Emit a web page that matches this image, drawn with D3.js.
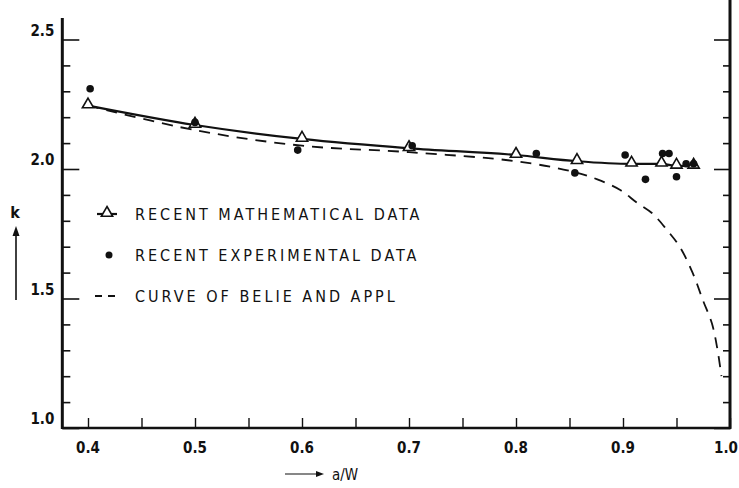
<!DOCTYPE html>
<html>
<head>
<meta charset="utf-8">
<script src="https://cdn.jsdelivr.net/npm/d3@7"></script>
<style>
body { margin:0; background:#fff; }
text { font-family: "DejaVu Sans Condensed", "Liberation Sans Narrow", sans-serif; fill:#111; }
</style>
</head>
<body>
<svg id="view"></svg>
<script>
// a/W vs k values
var mathX = [0.40, 0.50, 0.60, 0.70, 0.80, 0.857, 0.908, 0.936, 0.950, 0.966];
var mathK = [2.245, 2.17, 2.116, 2.08, 2.054, 2.03, 2.02, 2.02, 2.012, 2.012];

var expX = [0.402, 0.50, 0.596, 0.703, 0.819, 0.855, 0.902, 0.921, 0.937, 0.943, 0.950, 0.959, 0.966];
var expK = [2.31, 2.18, 2.073, 2.09, 2.06, 1.985, 2.054, 1.96, 2.06, 2.06, 1.97, 2.02, 2.02];

var belieX = [0.40, 0.50, 0.60, 0.70, 0.80, 0.853, 0.876, 0.897, 0.913, 0.927, 0.941, 0.953, 0.965, 0.975, 0.983, 0.988, 0.992];
var belieK = [2.245, 2.15, 2.09, 2.065, 2.03, 1.99, 1.96, 1.92, 1.87, 1.83, 1.765, 1.70, 1.60, 1.49, 1.405, 1.31, 1.20];

var xTicks = [0.4, 0.5, 0.6, 0.7, 0.8, 0.9, 1.0];
var yTicks = [1.0, 1.5, 2.0, 2.5];
var legendLabels = ["RECENT MATHEMATICAL DATA", "RECENT EXPERIMENTAL DATA", "CURVE OF BELIE AND APPL"];

var width = 739, height = 488;
var svg = d3.select("#view").attr("width", width).attr("height", height);

var x = d3.scaleLinear().domain([0.4, 1.0]).range([88, 730]);
var y = d3.scaleLinear().domain([1.0, 2.5]).range([428, 39.5]);
var left = x(0.376), right = x(1.0), bottom = y(1.0);

var fine = d3.range(10, 26).map(d => d / 10);
var fineX = d3.range(8, 21).map(d => d / 20);

// left axis
var gl = svg.append("g").attr("transform", "translate(" + left + ",0)");
gl.call(d3.axisRight(y).tickValues(fine).tickSize(8).tickFormat(""));
gl.selectAll(".tick line").attr("stroke", "#111").attr("stroke-width", 1.6)
  .attr("x2", d => yTicks.some(t => Math.abs(t - d) < 1e-6) ? 17 : 8);
gl.select(".domain").remove();
gl.append("line").attr("y1", 18).attr("y2", bottom + 1).attr("stroke", "#111").attr("stroke-width", 3);
gl.selectAll(".lab").data(yTicks).join("text")
  .attr("x", -8).attr("y", d => y(d) - 4)
  .attr("text-anchor", "end").attr("font-size", 15).attr("font-weight", "bold")
  .text(d => d.toFixed(1));

// right axis
var gr = svg.append("g").attr("transform", "translate(" + right + ",0)");
gr.call(d3.axisLeft(y).tickValues(fine).tickSize(8).tickFormat(""));
gr.selectAll(".tick line").attr("stroke", "#111").attr("stroke-width", 1.6)
  .attr("x2", d => yTicks.some(t => Math.abs(t - d) < 1e-6) ? -16 : -7);
gr.select(".domain").remove();
gr.append("line").attr("y1", 0).attr("y2", bottom + 1).attr("stroke", "#111").attr("stroke-width", 3);

// bottom axis
var gb = svg.append("g").attr("transform", "translate(0," + bottom + ")");
gb.call(d3.axisTop(x).tickValues(fineX).tickSize(10).tickFormat(""));
gb.selectAll(".tick line").attr("stroke", "#111").attr("stroke-width", 1.4);
gb.select(".domain").remove();
gb.append("line").attr("x1", left).attr("x2", right + 1).attr("stroke", "#111").attr("stroke-width", 2.5);
gb.selectAll(".lab").data(xTicks).join("text")
  .attr("x", d => d === 1.0 ? width - 1 : x(d)).attr("y", 25)
  .attr("text-anchor", d => d === 1.0 ? "end" : "middle")
  .attr("font-size", 15).attr("font-weight", "bold")
  .text(d => d.toFixed(1));

// axis titles with arrows
svg.append("text").attr("x", 15).attr("y", 218).attr("text-anchor", "middle")
  .attr("font-size", 16).attr("font-weight", "bold").text("k");
svg.append("line").attr("x1", 16).attr("x2", 16).attr("y1", 300).attr("y2", 232)
  .attr("stroke", "#111").attr("stroke-width", 1.6);
svg.append("path").attr("d", "M16,226 L12.5,236 L19.5,236 Z").attr("fill", "#111");

svg.append("line").attr("x1", 285).attr("x2", 318).attr("y1", 474).attr("y2", 474)
  .attr("stroke", "#111").attr("stroke-width", 1.2);
svg.append("path").attr("d", "M324,474 L316,471 L316,477 Z").attr("fill", "#111");
svg.append("text").attr("x", 332).attr("y", 480).attr("font-size", 15).text("a/W");

// curves
var line = d3.line().x(d => x(d[0])).y(d => y(d[1])).curve(d3.curveMonotoneX);
var belie = d3.line().x(d => x(d[0])).y(d => y(d[1])).curve(d3.curveCatmullRom);

svg.append("path").datum(d3.zip(belieX, belieK)).attr("d", belie)
  .attr("fill", "none").attr("stroke", "#111").attr("stroke-width", 1.8)
  .attr("stroke-dasharray", "11,8");

svg.append("path").datum(d3.zip(mathX, mathK)).attr("d", line)
  .attr("fill", "none").attr("stroke", "#111").attr("stroke-width", 2.2);

var tri = d3.symbol().type(d3.symbolTriangle).size(55);
svg.selectAll(".tri").data(d3.zip(mathX, mathK)).join("path")
  .attr("d", tri).attr("transform", d => "translate(" + x(d[0]) + "," + (y(d[1]) - 1) + ")")
  .attr("fill", "#fff").attr("stroke", "#111").attr("stroke-width", 1.6);

svg.selectAll(".dot").data(d3.zip(expX, expK)).join("circle")
  .attr("cx", d => x(d[0])).attr("cy", d => y(d[1])).attr("r", 3.8).attr("fill", "#111");

// legend
var lg = svg.append("g");
var rows = [214, 255, 296];
lg.append("line").attr("x1", 97).attr("x2", 117).attr("y1", rows[0]).attr("y2", rows[0])
  .attr("stroke", "#111").attr("stroke-width", 2.2);
lg.append("path").attr("d", tri).attr("transform", "translate(107," + (rows[0] - 1) + ")")
  .attr("fill", "#fff").attr("stroke", "#111").attr("stroke-width", 1.6);
lg.append("circle").attr("cx", 109).attr("cy", rows[1]).attr("r", 3.5).attr("fill", "#111");
lg.append("line").attr("x1", 95).attr("x2", 117).attr("y1", rows[2]).attr("y2", rows[2])
  .attr("stroke", "#111").attr("stroke-width", 1.8).attr("stroke-dasharray", "7,6");
lg.selectAll(".lt").data(legendLabels).join("text")
  .attr("x", 135).attr("y", (d, i) => rows[i] + 6)
  .attr("font-size", 16).attr("letter-spacing", 3)
  .text(d => d);
</script>
</body>
</html>
